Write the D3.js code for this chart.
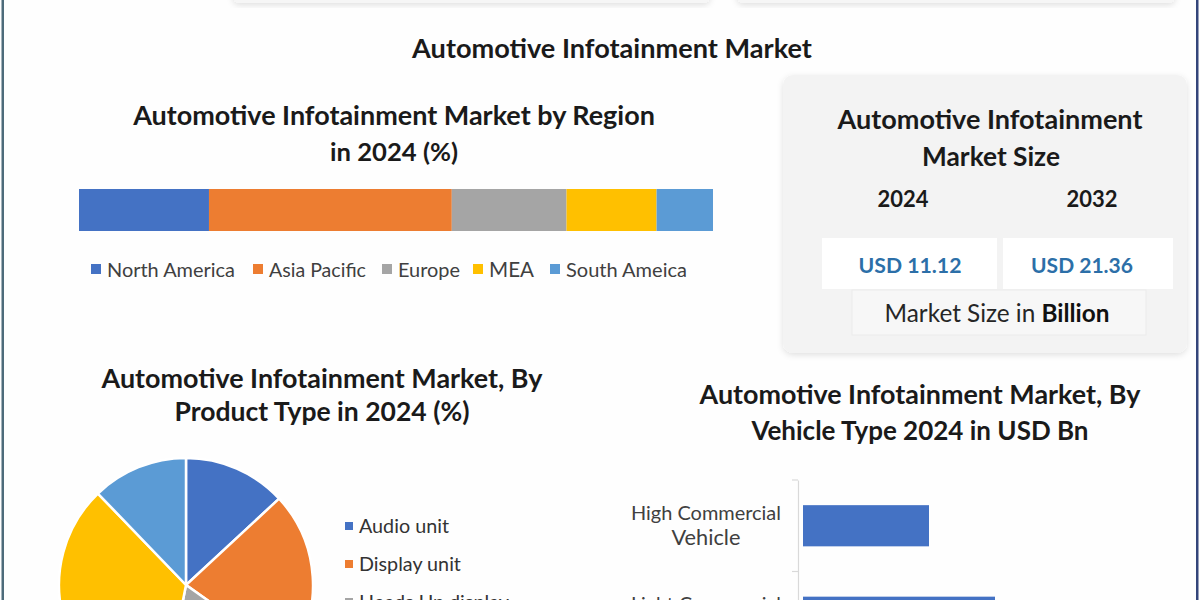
<!DOCTYPE html>
<html><head><meta charset="utf-8">
<script src="https://cdn.jsdelivr.net/npm/d3@7/dist/d3.min.js"></script>
<style>html,body{margin:0;padding:0;background:#fff;}svg{display:block;}</style>
</head><body>
<svg id="c" width="1200" height="600"></svg>
<script>
// ---- data ----
const regions = ["North America", "Asia Pacific", "Europe", "MEA", "South Ameica"];
const regionShare = [20.5, 38.3, 18.1, 14.2, 8.9];
const productTypes = ["Audio unit", "Display unit", "Heads Up display", "Navigation unit", "Communication unit"];
const productShare = [13.1, 21.7, 18.3, 34.7, 12.2];
const vehicleTypes = ["High Commercial Vehicle", "Light Commercial Vehicle", "Passenger Vehicle"];
const vehicleLabels = [["High Commercial", "Vehicle"], ["Light Commercial", "Vehicle"], ["Passenger", "Vehicle"]];
const vehicleValue = [2.1, 3.2, 5.8];
const marketYears = ["2024", "2032"];
const marketSize = [11.12, 21.36];
const palette = ["#4472c4", "#ed7d31", "#a5a5a5", "#ffc000", "#5b9bd5"];

const FONT = "Lato, 'Open Sans', sans-serif";
const svg = d3.select("#c");
const defs = svg.append("defs");
const f = defs.append("filter").attr("id", "sh").attr("x", "-10%").attr("y", "-10%").attr("width", "120%").attr("height", "130%");
f.append("feDropShadow").attr("dx", 0).attr("dy", 2).attr("stdDeviation", 3).attr("flood-color", "#000").attr("flood-opacity", 0.12);

function fit(t, w) {
  const n = t.node(); const fs = parseFloat(t.attr("font-size"));
  const L = n.getComputedTextLength();
  if (L > 0) t.attr("font-size", (fs * w / L).toFixed(2));
  return t;
}
function txt(g, x, y, s, size, opts = {}) {
  const t = g.append("text").attr("x", x).attr("y", y).text(s)
    .attr("font-family", FONT).attr("font-size", size)
    .attr("font-weight", opts.bold ? 700 : 400)
    .attr("fill", opts.fill || "#1a1a1a")
    .attr("text-anchor", opts.anchor || "middle");
  if (opts.w) fit(t, opts.w);
  return t;
}

// background & borders
svg.append("rect").attr("width", 1200).attr("height", 600).attr("fill", "#fefefe");
svg.append("rect").attr("x", 1.5).attr("y", 0).attr("width", 2.5).attr("height", 600).attr("fill", "#4d6b7a");
svg.append("rect").attr("x", 1196).attr("y", 0).attr("width", 2.5).attr("height", 600).attr("fill", "#34457a");

// faint boxes at the top (bottoms of panels cut off)
svg.append("rect").attr("x", 233).attr("y", -20).attr("width", 477).attr("height", 23).attr("rx", 6).attr("fill", "#f6f6f6").attr("filter", "url(#sh)");
svg.append("rect").attr("x", 737).attr("y", -20).attr("width", 438).attr("height", 23).attr("rx", 6).attr("fill", "#f6f6f6").attr("filter", "url(#sh)");

// main title
txt(svg, 612, 58, "Automotive Infotainment Market", 24, {bold: true, w: 400});

// ---- region stacked bar ----
const gR = svg.append("g");
txt(gR, 394, 125, "Automotive Infotainment Market by Region", 26, {bold: true, w: 522});
txt(gR, 394, 161, "in 2024 (%)", 26, {bold: true, w: 128});
const xR = d3.scaleLinear().domain([0, d3.sum(regionShare)]).range([79, 713]);
let cum = 0;
const segs = regionShare.map((v, i) => { const s = {i, v, x0: cum}; cum += v; return s; });
gR.selectAll("rect.seg").data(segs).join("rect").attr("class", "seg")
  .attr("x", d => xR(d.x0)).attr("width", d => xR(d.x0 + d.v) - xR(d.x0))
  .attr("y", 189).attr("height", 42).attr("fill", d => palette[d.i]);
// legend
const legX = [91, 253, 382, 473, 550];
const legW = [128, 97, 62, 45, 121];
regions.forEach((r, i) => {
  gR.append("rect").attr("x", legX[i]).attr("y", 264).attr("width", 10).attr("height", 10).attr("fill", palette[i]);
  txt(gR, legX[i] + 16, 277, r, 18, {anchor: "start", fill: "#404040", w: legW[i]});
});

// ---- market size panel ----
const gM = svg.append("g");
gM.append("rect").attr("x", 783).attr("y", 75).attr("width", 404).attr("height", 278).attr("rx", 10).attr("fill", "#f3f3f3").attr("filter", "url(#sh)");
txt(gM, 990, 129, "Automotive Infotainment", 24, {bold: true, w: 305});
txt(gM, 991, 166, "Market Size", 24, {bold: true, w: 138});
const yrX = [903, 1092];
const boxX = [822, 1003], boxW = [175, 170];
const valX = [910, 1082], valW = [103, 102];
marketYears.forEach((y, i) => {
  txt(gM, yrX[i], 207, y, 21, {bold: true, w: 51});
  gM.append("rect").attr("x", boxX[i]).attr("y", 238).attr("width", boxW[i]).attr("height", 51).attr("fill", "#ffffff");
  txt(gM, valX[i], 273, "USD " + d3.format(".2f")(marketSize[i]), 21, {bold: true, fill: "#2c6fa8", w: valW[i]});
});
gM.append("rect").attr("x", 852).attr("y", 290).attr("width", 294).attr("height", 45).attr("fill", "#f7f7f7").attr("stroke", "#ebebeb");
const ms = gM.append("text").attr("x", 997).attr("y", 322).attr("text-anchor", "middle")
  .attr("font-family", FONT).attr("font-size", 21).attr("fill", "#262626");
ms.append("tspan").text("Market Size in ");
ms.append("tspan").attr("font-weight", 700).attr("fill", "#111").text("Billion");
fit(ms, 225);

// ---- product type pie ----
const gP = svg.append("g");
txt(gP, 322, 388, "Automotive Infotainment Market, By", 26, {bold: true, w: 441});
txt(gP, 322, 421, "Product Type in 2024 (%)", 26, {bold: true, w: 295});
const pie = d3.pie().sort(null).value(d => d)(productShare);
const arc = d3.arc().innerRadius(0).outerRadius(127);
gP.append("g").attr("transform", "translate(186,585)")
  .selectAll("path").data(pie).join("path")
  .attr("d", arc).attr("fill", (d, i) => palette[i]).attr("stroke", "#fff").attr("stroke-width", 2.5);
const plw = [90, 102, 150, 140, 170];
productTypes.forEach((p, i) => {
  const y = 533 + i * 38;
  gP.append("rect").attr("x", 345).attr("y", y - 11).attr("width", 8).attr("height", 8).attr("fill", palette[i]);
  txt(gP, 359, y, p, 19, {anchor: "start", fill: "#333", w: plw[i]});
});

// ---- vehicle type bar ----
const gV = svg.append("g");
txt(gV, 920, 404, "Automotive Infotainment Market, By", 26, {bold: true, w: 441});
txt(gV, 920, 440, "Vehicle Type 2024 in USD Bn", 26, {bold: true, w: 337});
const yV = d3.scaleBand().domain(vehicleTypes).range([480, 480 + 3 * 91.5]).paddingInner(0.55).paddingOuter(0.275);
const xV = d3.scaleLinear().domain([0, 6]).range([799, 1159]);
const axis = d3.axisLeft(yV).tickSize(0).tickFormat("");
const ax = gV.append("g").attr("transform", "translate(798,0)").call(axis);
ax.select(".domain").attr("stroke", "#d9d9d9").attr("stroke-width", 1.2);
// boundary tick marks between categories
const step = yV.step();
gV.selectAll("line.tk").data(d3.range(0, vehicleTypes.length + 1)).join("line").attr("class", "tk")
  .attr("x1", 792).attr("x2", 798).attr("y1", k => 480 + k * step).attr("y2", k => 480 + k * step)
  .attr("stroke", "#d9d9d9").attr("stroke-width", 1.2);
gV.selectAll("rect.bar").data(vehicleTypes).join("rect").attr("class", "bar")
  .attr("x", xV(0) + 4).attr("y", d => yV(d)).attr("height", yV.bandwidth())
  .attr("width", (d, i) => xV(vehicleValue[i]) - xV(0)).attr("fill", "#4472c4");
vehicleTypes.forEach((v, i) => {
  const c = yV(v) + yV.bandwidth() / 2;
  vehicleLabels[i].forEach((line, j) => {
    txt(gV, 706, c - 6 + j * 25, line, 18, {fill: "#404040", w: j === 0 ? 150 : 69});
  });
});
</script>
</body></html>
